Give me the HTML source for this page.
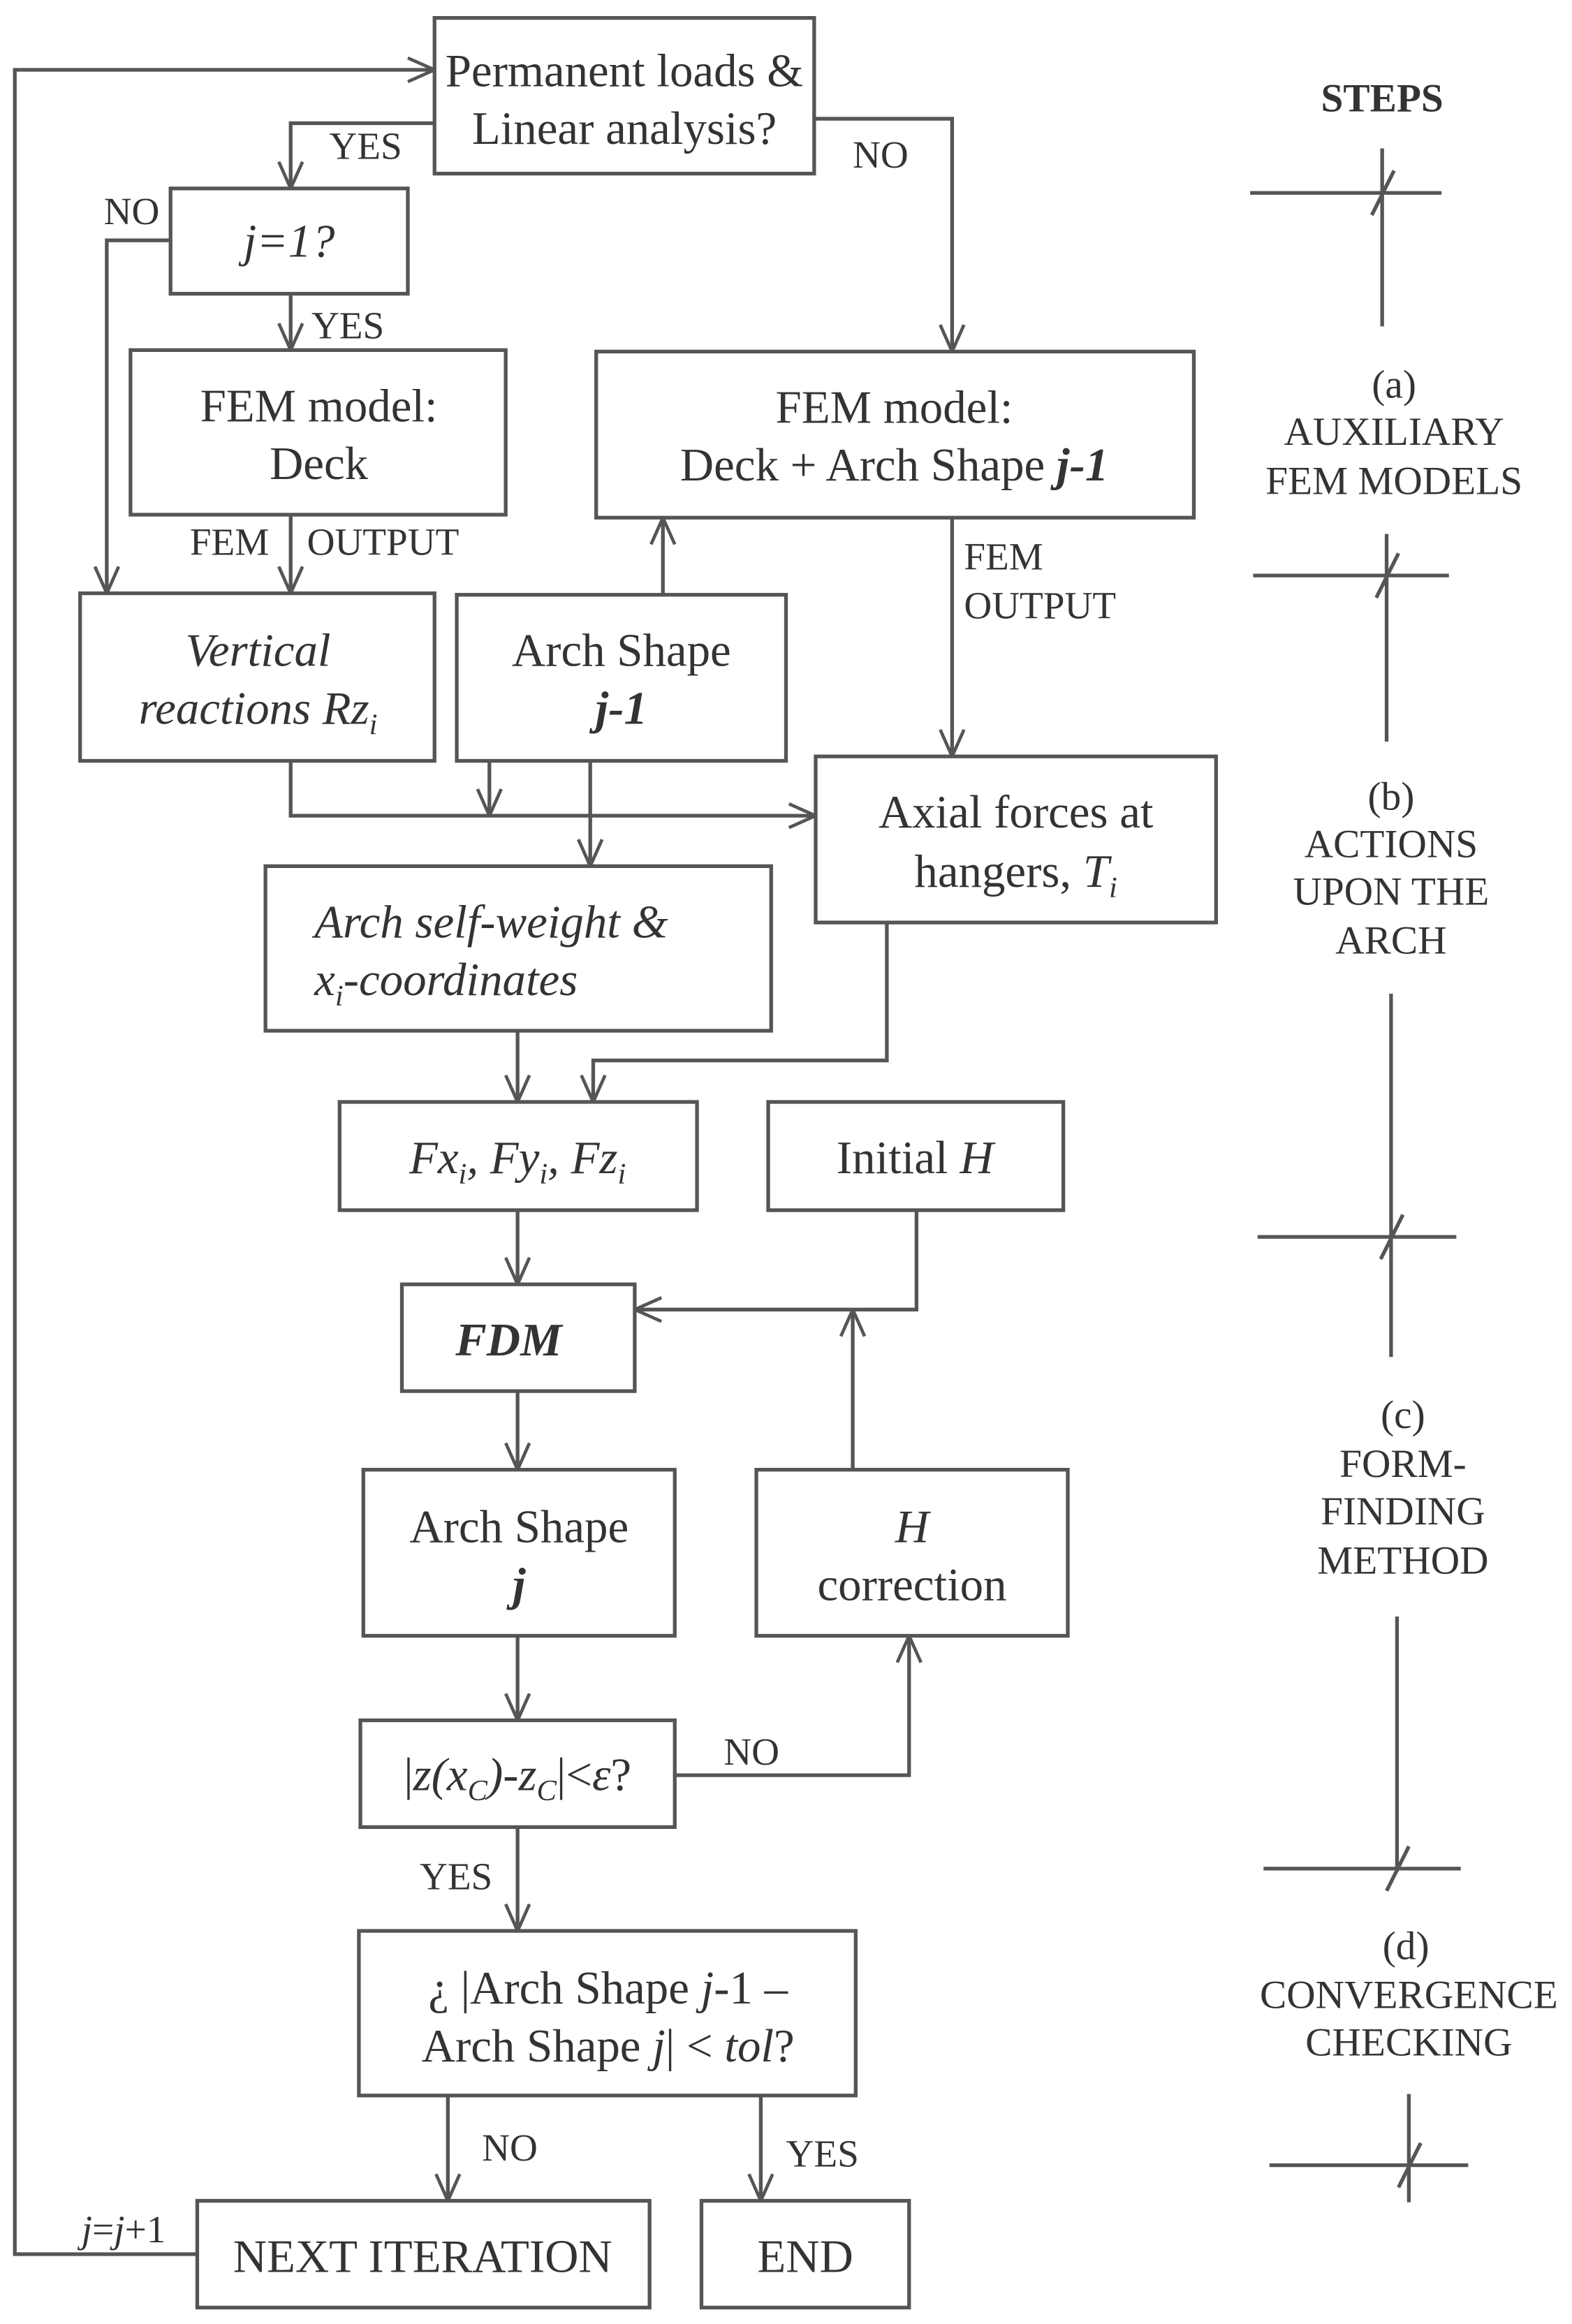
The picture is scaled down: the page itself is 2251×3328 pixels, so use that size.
<!DOCTYPE html>
<html><head><meta charset="utf-8"><style>
html,body{margin:0;padding:0;background:#fff}
svg{display:block}
text{font-family:"Liberation Serif",serif;fill:#333;font-size:31.5px}
.m{text-anchor:middle}
.s{font-size:26px}
.t{font-size:27px}
</style></head><body>
<svg width="2251" height="3328" viewBox="0 0 1060 1567" xmlns="http://www.w3.org/2000/svg">
<defs>
<marker id="a" viewBox="0 0 20 20" refX="20" refY="10" markerWidth="20" markerHeight="20" markerUnits="userSpaceOnUse" orient="auto">
<polyline points="2,2 20,10 2,18" fill="none" stroke="#555" stroke-width="2.2"/>
</marker>
</defs>
<g fill="none" stroke="#555" stroke-width="2.5">
<rect x="293" y="12" width="256" height="105"/>
<rect x="115" y="127" width="160" height="71"/>
<rect x="88" y="236" width="253" height="111"/>
<rect x="402" y="237" width="403" height="112"/>
<rect x="54" y="400" width="239" height="113"/>
<rect x="308" y="401" width="222" height="112"/>
<rect x="550" y="510" width="270" height="112"/>
<rect x="179" y="584" width="341" height="111"/>
<rect x="229" y="743" width="241" height="73"/>
<rect x="518" y="743" width="199" height="73"/>
<rect x="271" y="866" width="157" height="72"/>
<rect x="245" y="991" width="210" height="112"/>
<rect x="510" y="991" width="210" height="112"/>
<rect x="243" y="1160" width="212" height="72"/>
<rect x="242" y="1302" width="335" height="111"/>
<rect x="133" y="1484" width="305" height="72"/>
<rect x="473" y="1484" width="140" height="72"/>

<polyline points="133,1520 10,1520 10,47 293,47" marker-end="url(#a)"/>
<polyline points="293,83 196,83 196,127" marker-end="url(#a)"/>
<polyline points="549,80 642,80 642,237" marker-end="url(#a)"/>
<polyline points="115,162 72,162 72,400" marker-end="url(#a)"/>
<polyline points="196,198 196,236" marker-end="url(#a)"/>
<polyline points="196,347 196,400" marker-end="url(#a)"/>
<polyline points="447,401 447,349" marker-end="url(#a)"/>
<polyline points="642,349 642,510" marker-end="url(#a)"/>
<polyline points="196,513 196,550 550,550" marker-end="url(#a)"/>
<polyline points="330,513 330,550" marker-end="url(#a)"/>
<polyline points="398,513 398,584" marker-end="url(#a)"/>
<polyline points="598,622 598,715 400,715 400,743" marker-end="url(#a)"/>
<polyline points="349,695 349,743" marker-end="url(#a)"/>
<polyline points="349,816 349,866" marker-end="url(#a)"/>
<polyline points="618,816 618,883 428,883" marker-end="url(#a)"/>
<polyline points="575,991 575,883" marker-end="url(#a)"/>
<polyline points="349,938 349,991" marker-end="url(#a)"/>
<polyline points="349,1103 349,1160" marker-end="url(#a)"/>
<polyline points="455,1197 613,1197 613,1103" marker-end="url(#a)"/>
<polyline points="349,1232 349,1302" marker-end="url(#a)"/>
<polyline points="302,1413 302,1484" marker-end="url(#a)"/>
<polyline points="513,1413 513,1484" marker-end="url(#a)"/>

<path d="M843,130H972M932,100V220M925,145L940,115"/>
<path d="M845,388H977M935,360V500M928,403L943,373"/>
<path d="M848,834H982M938,670V915M931,849L946,819"/>
<path d="M852,1260H985M942,1090V1262M935,1275L950,1245"/>
<path d="M856,1460H990M950,1412V1485M943,1475L958,1445"/>
</g>

<text class="m" x="421" y="58">Permanent loads &amp;</text>
<text class="m" x="421" y="97">Linear analysis?</text>
<text class="s" x="222" y="107">YES</text>
<text class="s" x="575" y="113">NO</text>
<text class="s" x="70" y="151">NO</text>
<text class="m" x="195" y="173" font-style="italic">j=1?</text>
<text class="s" x="210" y="228">YES</text>
<text class="m" x="215" y="284">FEM model:</text>
<text class="m" x="215" y="323">Deck</text>
<text class="m" x="603" y="285">FEM model:</text>
<text class="m" x="603" y="324">Deck + Arch Shape <tspan font-weight="bold" font-style="italic">j-1</tspan></text>
<text class="s" x="128" y="374">FEM</text>
<text class="s" x="207" y="374">OUTPUT</text>
<text class="s" x="650" y="384">FEM</text>
<text class="s" x="650" y="417">OUTPUT</text>
<text class="m" x="174" y="449" font-style="italic">Vertical</text>
<text class="m" x="174" y="488" font-style="italic">reactions Rz<tspan font-size="20" dy="7">i</tspan></text>
<text class="m" x="419" y="449">Arch Shape</text>
<text class="m" x="419" y="488" font-weight="bold" font-style="italic">j-1</text>
<text class="m" x="685" y="558">Axial forces at</text>
<text class="m" x="685" y="598">hangers, <tspan font-style="italic">T</tspan><tspan font-size="20" dy="7" font-style="italic">i</tspan></text>
<text x="212" y="632" font-style="italic">Arch self-weight &amp;</text>
<text x="212" y="671" font-style="italic">x<tspan font-size="20" dy="7">i</tspan><tspan dy="-7">-coordinates</tspan></text>
<text class="m" x="349" y="791" font-style="italic">Fx<tspan font-size="20" dy="7">i</tspan><tspan dy="-7">, Fy</tspan><tspan font-size="20" dy="7">i</tspan><tspan dy="-7">, Fz</tspan><tspan font-size="20" dy="7">i</tspan></text>
<text class="m" x="617" y="791">Initial <tspan font-style="italic">H</tspan></text>
<text class="m" x="343" y="914" font-weight="bold" font-style="italic">FDM</text>
<text class="m" x="350" y="1040">Arch Shape</text>
<text class="m" x="350" y="1079" font-weight="bold" font-style="italic">j</text>
<text class="m" x="615" y="1040" font-style="italic">H</text>
<text class="m" x="615" y="1079">correction</text>
<text class="m" x="349" y="1207">|<tspan font-style="italic">z(x</tspan><tspan font-size="20" dy="7" font-style="italic">C</tspan><tspan dy="-7" font-style="italic">)-z</tspan><tspan font-size="20" dy="7" font-style="italic">C</tspan><tspan dy="-7">|&lt;</tspan><tspan font-style="italic">ε</tspan>?</text>
<text class="s" x="488" y="1190">NO</text>
<text class="s" x="283" y="1274">YES</text>
<text class="m" x="410" y="1351">¿ |Arch Shape <tspan font-style="italic">j</tspan>-1 –</text>
<text class="m" x="410" y="1390">Arch Shape <tspan font-style="italic">j</tspan>| &lt; <tspan font-style="italic">tol</tspan>?</text>
<text class="s" x="325" y="1457">NO</text>
<text class="s" x="530" y="1461">YES</text>
<text class="s" x="55" y="1512" font-style="italic">j<tspan font-style="normal">=</tspan>j<tspan font-style="normal">+1</tspan></text>
<text class="m" x="285" y="1532">NEXT ITERATION</text>
<text class="m" x="543" y="1532">END</text>

<text class="m t" x="932" y="75" font-weight="bold">STEPS</text>
<text class="m t" x="940" y="268">(a)</text>
<text class="m t" x="940" y="300">AUXILIARY</text>
<text class="m t" x="940" y="333">FEM MODELS</text>
<text class="m t" x="938" y="546">(b)</text>
<text class="m t" x="938" y="578">ACTIONS</text>
<text class="m t" x="938" y="610">UPON THE</text>
<text class="m t" x="938" y="643">ARCH</text>
<text class="m t" x="946" y="963">(c)</text>
<text class="m t" x="946" y="996">FORM-</text>
<text class="m t" x="946" y="1028">FINDING</text>
<text class="m t" x="946" y="1061">METHOD</text>
<text class="m t" x="948" y="1321">(d)</text>
<text class="m t" x="950" y="1354">CONVERGENCE</text>
<text class="m t" x="950" y="1386">CHECKING</text>
</svg>
</body></html>
